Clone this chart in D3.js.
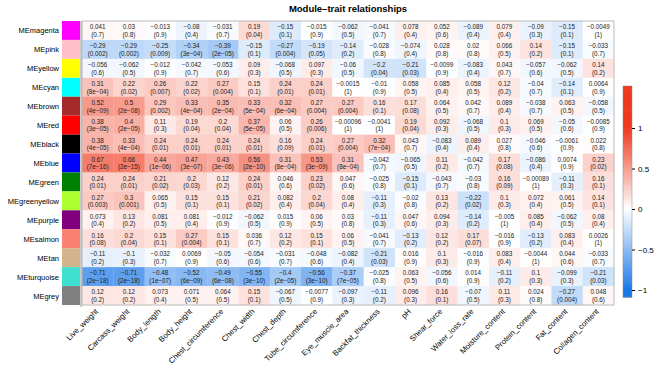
<!DOCTYPE html>
<html><head><meta charset="utf-8">
<script src="https://cdn.jsdelivr.net/npm/d3@7"></script>
<style>body{margin:0;background:#fff}svg{display:block}text{font-family:"Liberation Sans",Arial,sans-serif}</style>
</head><body><svg id="c" width="669" height="369"></svg>
<script>
const modules = ["MEmagenta","MEpink","MEyellow","MEcyan","MEbrown","MEred","MEblack","MEblue","MEgreen","MEgreenyellow","MEpurple","MEsalmon","MEtan","MEturquoise","MEgrey"];
const moduleColors = ["magenta","pink","yellow","cyan","brown","red","black","blue","green","greenyellow","purple","salmon","tan","turquoise","grey"];
const traits = ["Live_weight","Carcass_weight","Body_length","Body_height","Chest_circumference","Chest_width","Chest_depth","Tube_circumference","Eye_muscle_area","Backfat_thickness","pH","Shear_force","Water_loss_rate","Moisture_content","Protein_content","Fat_content","Collagen_content"];
const corValues = [
[0.041,0.03,-0.013,-0.08,-0.031,0.19,-0.15,-0.015,-0.062,-0.041,0.078,0.052,-0.089,0.079,-0.09,-0.15,-0.0049],
[-0.29,-0.29,-0.25,-0.34,-0.39,-0.15,-0.27,-0.19,-0.14,-0.028,-0.074,0.028,0.02,0.066,0.14,-0.15,-0.033],
[-0.056,-0.062,-0.012,-0.042,-0.053,0.09,-0.068,0.097,-0.06,-0.2,-0.21,-0.0099,-0.083,0.043,-0.057,-0.062,0.14],
[0.31,0.22,0.26,0.22,0.27,0.15,0.24,0.24,-0.0015,-0.01,0.058,0.085,0.058,0.12,-0.04,-0.14,0.0064],
[0.52,0.5,0.29,0.33,0.35,0.33,0.32,0.27,0.27,0.16,0.17,0.064,0.042,0.089,-0.038,0.063,-0.058],
[0.38,0.4,0.11,0.19,0.2,0.37,0.06,0.26,-0.00096,-0.0041,0.19,0.092,-0.068,0.1,0.069,-0.05,-0.0085],
[0.38,0.33,0.24,0.24,0.24,0.24,0.16,0.24,0.27,0.32,0.043,-0.083,0.089,0.027,-0.046,-0.0061,0.022],
[0.67,0.66,0.44,0.47,0.43,0.56,0.31,0.53,0.31,-0.042,-0.065,0.11,-0.042,0.17,-0.086,0.0074,0.23],
[0.24,0.24,0.21,0.2,0.12,0.24,0.046,0.23,0.047,-0.025,-0.15,-0.043,-0.03,0.16,-0.00089,-0.11,0.16],
[0.27,0.3,0.065,0.15,0.15,0.21,0.082,0.2,0.08,-0.11,-0.02,0.13,-0.22,0.1,0.072,0.061,0.14],
[0.073,0.13,0.081,0.081,-0.012,-0.062,0.015,0.06,0.03,-0.11,0.047,0.094,-0.14,-0.005,0.085,-0.062,0.08],
[0.16,0.2,0.15,0.27,0.15,0.036,0.12,0.15,0.06,-0.041,-0.13,0.12,0.17,-0.016,-0.13,0.083,0.0026],
[-0.11,-0.1,-0.032,0.0069,-0.05,-0.054,-0.031,-0.048,-0.082,-0.21,0.016,0.1,-0.016,0.083,-0.0044,0.044,-0.033],
[-0.71,-0.71,-0.48,-0.52,-0.49,-0.55,-0.4,-0.56,-0.37,-0.025,0.063,-0.056,0.014,-0.11,0.1,-0.099,-0.21],
[0.12,0.12,0.073,0.071,0.064,0.15,-0.067,-0.0077,-0.097,-0.11,0.096,0.16,-0.07,0.11,0.024,-0.27,0.048]
];
const pValues = [
["0.7","0.8","0.9","0.4","0.7","0.04","0.1","0.9","0.5","0.7","0.4","0.6","0.4","0.4","0.3","0.1","1"],
["0.002","0.002","0.009","3e-04","2e-05","0.1","0.004","0.05","0.2","0.8","0.4","0.8","0.8","0.5","0.2","0.1","0.7"],
["0.6","0.5","0.9","0.7","0.6","0.3","0.5","0.3","0.5","0.04","0.03","0.9","0.4","0.7","0.6","0.5","0.2"],
["8e-04","0.02","0.007","0.02","0.004","0.1","0.01","0.01","1","0.9","0.5","0.4","0.5","0.2","0.7","0.1","0.9"],
["4e-09","2e-08","0.002","4e-04","2e-04","5e-04","6e-04","0.004","0.004","0.1","0.08","0.5","0.7","0.4","0.7","0.5","0.5"],
["3e-05","2e-05","0.3","0.04","0.04","5e-05","0.5","0.006","1","1","0.04","0.3","0.5","0.3","0.5","0.6","0.9"],
["4e-05","4e-04","0.01","0.01","0.01","0.01","0.09","0.01","0.004","7e-04","0.7","0.4","0.4","0.8","0.6","0.9","0.8"],
["7e-16","2e-15","1e-06","3e-07","3e-06","2e-10","8e-04","3e-09","8e-04","0.7","0.5","0.2","0.7","0.08","0.4","0.9","0.02"],
["0.01","0.01","0.02","0.03","0.2","0.01","0.6","0.02","0.6","0.8","0.1","0.7","0.8","0.09","1","0.3","0.1"],
["0.003","0.001","0.5","0.1","0.1","0.02","0.4","0.04","0.4","0.3","0.8","0.2","0.02","0.3","0.4","0.5","0.1"],
["0.4","0.2","0.5","0.4","0.9","0.5","0.9","0.5","0.8","0.3","0.6","0.3","0.2","1","0.4","0.5","0.4"],
["0.08","0.04","0.1","0.004","0.1","0.7","0.2","0.1","0.5","0.7","0.2","0.2","0.07","0.9","0.2","0.4","1"],
["0.2","0.3","0.7","0.9","0.6","0.6","0.7","0.6","0.4","0.03","0.9","0.3","0.9","0.4","1","0.6","0.7"],
["2e-18","2e-18","1e-07","6e-09","6e-08","3e-10","2e-05","3e-10","7e-05","0.8","0.5","0.6","0.9","0.2","0.3","0.3","0.03"],
["0.2","0.2","0.4","0.5","0.5","0.1","0.5","0.9","0.3","0.2","0.3","0.1","0.5","0.3","0.8","0.004","0.6"]
];
const legendTicks = [1,0.5,0,-0.5,-1];
const title = "Module\u2013trait relationships";

const svg = d3.select("#c");
const L = 82, R = 614, T = 21, B = 305;
const x = d3.scaleBand().domain(traits).range([L,R]);
const y = d3.scaleBand().domain(modules).range([T,B]);
const color = d3.scaleLinear().domain([-1,0,1]).range(["#1b78e6","#ffffff","#ee3a1f"]).clamp(true);

svg.append("text").attr("x",348).attr("y",12).attr("text-anchor","middle")
  .attr("font-size",9.5).attr("font-weight","bold").text(title);

const cells = [];
modules.forEach((m,i)=>traits.forEach((t,j)=>cells.push({m,t,v:corValues[i][j],p:pValues[i][j]})));
const g = svg.append("g");
g.selectAll("rect.cell").data(cells).join("rect").attr("class","cell")
  .attr("x",d=>x(d.t)).attr("y",d=>y(d.m)).attr("width",x.bandwidth()+0.3).attr("height",y.bandwidth()+0.3)
  .attr("fill",d=>color(d.v));
const fmt = v => String(v).replace("-", "\u2212");
g.selectAll("text.v").data(cells).join("text").attr("class","v")
  .attr("x",d=>x(d.t)+x.bandwidth()/2).attr("y",d=>y(d.m)+y.bandwidth()/2-1.2)
  .attr("text-anchor","middle").attr("font-size",6.3).attr("fill","#222").text(d=>fmt(d.v));
g.selectAll("text.p").data(cells).join("text").attr("class","p")
  .attr("x",d=>x(d.t)+x.bandwidth()/2).attr("y",d=>y(d.m)+y.bandwidth()/2+6.3)
  .attr("text-anchor","middle").attr("font-size",6.3).attr("fill","#222").text(d=>"("+fmt(d.p)+")");
svg.append("rect").attr("x",L).attr("y",T).attr("width",R-L).attr("height",B-T)
  .attr("fill","none").attr("stroke","#bbb").attr("stroke-width",1);

// module color swatches
svg.selectAll("rect.sw").data(modules).join("rect").attr("class","sw")
  .attr("x",62).attr("y",d=>y(d)).attr("width",18).attr("height",y.bandwidth())
  .attr("fill",(d,i)=>moduleColors[i]);
svg.append("line").attr("x1",81).attr("x2",81).attr("y1",T).attr("y2",B+2).attr("stroke","#999");
svg.selectAll("text.rl").data(modules).join("text").attr("class","rl")
  .attr("x",59).attr("y",d=>y(d)+y.bandwidth()/2+3).attr("text-anchor","end")
  .attr("font-size",7.5).text(d=>d);

// column labels
svg.selectAll("text.cl").data(traits).join("text").attr("class","cl")
  .attr("transform",d=>`translate(${x(d)+x.bandwidth()/2+1},${B+7}) rotate(-45)`)
  .attr("text-anchor","end").attr("font-size",7.8).text(d=>d);

// legend
const ly = d3.scaleLinear().domain([-1,1]).range([290,128]);
const lg = svg.append("g");
const steps = d3.range(0,100);
const barTop = 86, barBot = 297;
lg.selectAll("rect").data(steps).join("rect")
  .attr("x",623).attr("width",9)
  .attr("y",s=>barTop+(barBot-barTop)*s/100).attr("height",(barBot-barTop)/100+0.6)
  .attr("fill",s=>color(ly.invert(barTop+(barBot-barTop)*(s+0.5)/100)));
lg.append("rect").attr("x",623).attr("y",barTop).attr("width",9).attr("height",barBot-barTop).attr("fill","none").attr("stroke","#888").attr("stroke-width",0.5);
const axis = d3.axisRight(ly).tickValues(legendTicks).tickSize(3).tickFormat(d=>String(d).replace("-","\u2212"));
const ag = svg.append("g").attr("transform","translate(632,0)").call(axis);
ag.select(".domain").remove();
ag.selectAll("text").attr("font-size",8).attr("font-family","Liberation Sans, Arial, sans-serif");
</script></body></html>
